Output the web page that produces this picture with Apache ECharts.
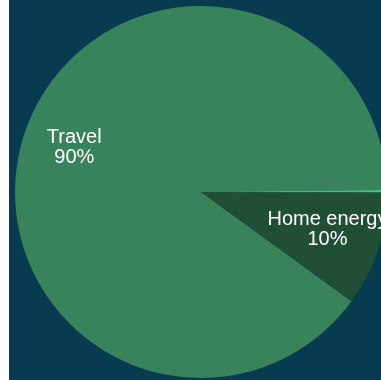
<!DOCTYPE html>
<html>
<head>
<meta charset="utf-8">
<script src="https://cdn.jsdelivr.net/npm/echarts@6/dist/echarts.min.js"></script>
<style>
html,body{margin:0;padding:0;background:#ffffff;}
#chart{position:absolute;left:9px;top:0;width:372px;height:380px;background:#063b50;}
</style>
</head>
<body>
<div id="chart"></div>
<script>
const categories = ['Travel', 'Home energy', 'Other'];
const values = [90, 10, 0.2];
const colors = ['#38835b', '#214f36', '#4cbf80'];

const data = categories.map((c, i) => ({ name: c, value: values[i], itemStyle: { color: colors[i] } }));

const chart = echarts.init(document.getElementById('chart'), null, { renderer: 'canvas' });
chart.setOption({
  backgroundColor: '#063b50',
  animation: false,
  series: [
    {
      type: 'pie',
      center: [192, 192],
      radius: [0, 186],
      clockwise: false,
      startAngle: 0.65,
      silent: true,
      label: { show: false },
      labelLine: { show: false },
      itemStyle: { borderWidth: 0 },
      data: data
    },
    {
      type: 'pie',
      center: [192, 192],
      radius: [74, 186],
      clockwise: false,
      startAngle: 0.65,
      silent: true,
      percentPrecision: 0,
      minShowLabelAngle: 5,
      itemStyle: { color: 'transparent', borderWidth: 0 },
      label: {
        show: true,
        position: 'inside',
        formatter: '{b}\n{d}%',
        color: '#ffffff',
        fontFamily: 'Liberation Sans, Arial, sans-serif',
        fontSize: 20,
        lineHeight: 20,
        offset: [0, -4],
        textBorderWidth: 0
      },
      labelLine: { show: false },
      data: categories.map((c, i) => ({ name: c, value: values[i] }))
    }
  ]
});
</script>
</body>
</html>
